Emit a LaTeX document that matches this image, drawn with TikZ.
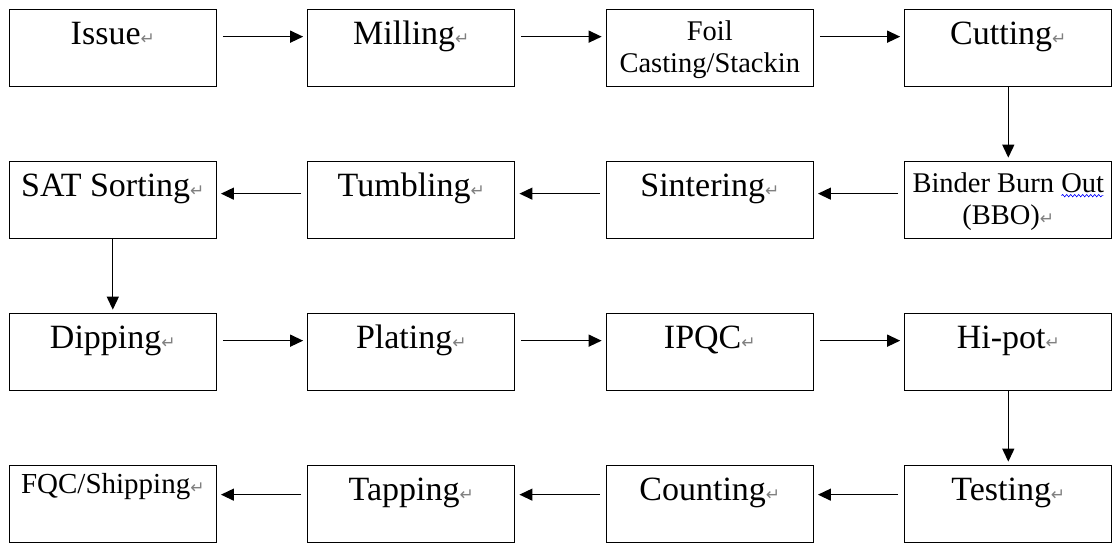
\documentclass[tikz,border=0pt]{standalone}
\usepackage{fontspec}
\setmainfont{Liberation Serif}
\newfontfamily\markfont{DejaVu Sans}
\usetikzlibrary{arrows.meta}
\usetikzlibrary{positioning}
\usetikzlibrary{matrix}
\usetikzlibrary{decorations.pathmorphing}

\newcommand{\pmark}{{\markfont\fontsize{17}{17}\selectfont\textcolor{gray}{↵}}}

\begin{document}
\begin{tikzpicture}[x=1pt,y=1pt,line width=1.3pt,
box/.style={draw,minimum width=207pt,minimum height=77pt,inner sep=0pt,
  text height=35pt,text depth=42pt,font=\fontsize{34}{36}\selectfont},
twoline/.style={text width=207pt,align=flush center,text height=31pt,text depth=46pt,
  font=\fontsize{28.5}{32.5}\selectfont},
>={Triangle[length=13pt,width=12pt]}]
\useasboundingbox (0,0) rectangle (1113,-543);
\matrix (flow) [matrix of nodes, anchor=north west, inner sep=0pt,
nodes={box,anchor=center},
column sep={298.5pt,between origins}, row sep={152pt,between origins}] at (8,-8)
{
|(issue)| Issue\pmark & |(mill)| Milling\pmark & |[twoline](foil)| Foil\break Casting/Stackin & |(cut)| Cutting\pmark \\
|(sat)| SAT Sorting\pmark & |(tumb)| Tumbling\pmark & |(sint)| Sintering\pmark & |[twoline](bbo)| Binder Burn Out\break (BBO)\pmark \\
|(dip)| Dipping\pmark & |(plat)| Plating\pmark & |(ipqc)| IPQC\pmark & |(hipot)| Hi-pot\pmark \\
|[font=\fontsize{29}{32}\selectfont,text height=28pt,text depth=49pt](fqc)| FQC/Shipping\pmark & |(tap)| Tapping\pmark & |(count)| Counting\pmark & |(test)| Testing\pmark \\
};
% spell check wave under "Out"
\draw[blue,line width=0.6pt,decorate,decoration={snake,amplitude=1.2pt,segment length=4pt}]
  ([xshift=-51pt,yshift=-35pt]bbo.north east) -- ([xshift=-9pt,yshift=-35pt]bbo.north east);
% left to right
\draw[->,shorten <=6pt,shorten >=4pt] ([yshift=-28pt]issue.north east) -- ([yshift=-28pt]mill.north west);
\draw[->,shorten <=6pt,shorten >=4pt] ([yshift=-28pt]mill.north east) -- ([yshift=-28pt]foil.north west);
\draw[->,shorten <=6pt,shorten >=4pt] ([yshift=-28pt]foil.north east) -- ([yshift=-28pt]cut.north west);
\draw[->,shorten <=6pt,shorten >=4pt] ([yshift=-28pt]dip.north east) -- ([yshift=-28pt]plat.north west);
\draw[->,shorten <=6pt,shorten >=4pt] ([yshift=-28pt]plat.north east) -- ([yshift=-28pt]ipqc.north west);
\draw[->,shorten <=6pt,shorten >=4pt] ([yshift=-28pt]ipqc.north east) -- ([yshift=-28pt]hipot.north west);
% right to left
\draw[->,shorten <=6pt,shorten >=4pt] ([yshift=-33pt]bbo.north west) -- ([yshift=-33pt]sint.north east);
\draw[->,shorten <=6pt,shorten >=4pt] ([yshift=-33pt]sint.north west) -- ([yshift=-33pt]tumb.north east);
\draw[->,shorten <=6pt,shorten >=4pt] ([yshift=-33pt]tumb.north west) -- ([yshift=-33pt]sat.north east);
\draw[->,shorten <=6pt,shorten >=4pt] ([yshift=-30pt]test.north west) -- ([yshift=-30pt]count.north east);
\draw[->,shorten <=6pt,shorten >=4pt] ([yshift=-30pt]count.north west) -- ([yshift=-30pt]tap.north east);
\draw[->,shorten <=6pt,shorten >=4pt] ([yshift=-30pt]tap.north west) -- ([yshift=-30pt]fqc.north east);
% downwards
\draw[->,shorten >=3pt] (cut.south) -- (bbo.north);
\draw[->,shorten >=3pt] (sat.south) -- (dip.north);
\draw[->,shorten >=3pt] (hipot.south) -- (test.north);
\end{tikzpicture}
\end{document}
